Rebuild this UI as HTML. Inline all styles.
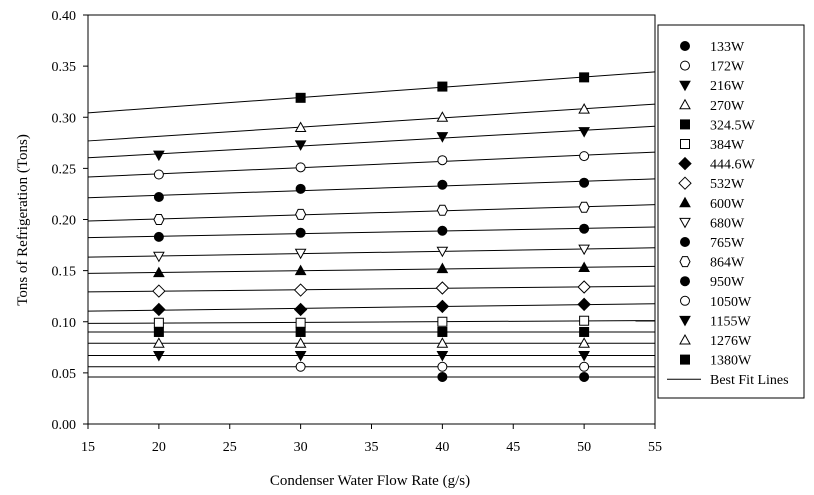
<!DOCTYPE html>
<html><head><meta charset="utf-8"><style>
body{margin:0;background:#fff}
svg{display:block;font-family:"Liberation Serif",serif}
</style></head><body>
<svg id="c" width="814" height="495" xmlns="http://www.w3.org/2000/svg"></svg>
<script>
const seriesNames=["133W","172W","216W","270W","324.5W","384W","444.6W","532W","600W","680W","765W","864W","950W","1050W","1155W","1276W","1380W"];
const markers=["fcircle","ocircle","fdown","oup","fsquare","osquare","fdiamond","odiamond","fup","odown","fcircle","ohex","fcircle","ocircle","fdown","oup","fsquare"];
const flows=[20,30,40,50];
const s133=[null,null,0.046,0.046];
const s172=[null,0.056,0.056,0.056];
const s216=[0.067,0.067,0.067,0.067];
const s270=[0.079,0.079,0.079,0.079];
const s324=[0.090,0.090,0.090,0.090];
const s384=[0.099,0.099,0.100,0.101];
const s444=[0.112,0.112,0.115,0.117];
const s532=[0.130,0.131,0.133,0.134];
const s600=[0.148,0.150,0.152,0.153];
const s680=[0.164,0.167,0.169,0.171];
const s765=[0.183,0.187,0.189,0.191];
const s864=[0.200,0.205,0.209,0.212];
const s950=[0.222,0.230,0.234,0.236];
const s1050=[0.244,0.251,0.258,0.262];
const s1155=[0.263,0.273,0.281,0.286];
const s1276=[null,0.290,0.300,0.308];
const s1380=[null,0.319,0.330,0.339];
const allSeries=[s133,s172,s216,s270,s324,s384,s444,s532,s600,s680,s765,s864,s950,s1050,s1155,s1276,s1380];
const xTicks=[15,20,25,30,35,40,45,50,55];
const yTicks=[0,0.05,0.10,0.15,0.20,0.25,0.30,0.35,0.40];

const L=88,R=655,T=15,B=424;
const X=v=>L+(v-15)/(40)*(R-L);
const Y=v=>B-v/0.4*(B-T);
const svg=document.getElementById('c');
const NS="http://www.w3.org/2000/svg";
function mk(tag,attrs,parent){const e=document.createElementNS(NS,tag);for(const k in attrs)e.setAttribute(k,attrs[k]);(parent||svg).appendChild(e);return e;}
function marker(type,cx,cy,g){
  const fill=type[0]==='f'?'#000':'#fff';const s=type.slice(1);let e;const st={fill:fill,stroke:'#000','stroke-width':1};
  if(s==='circle'){e=mk('circle',Object.assign({cx:cx,cy:cy,r:4.5},st),g);}
  else if(s==='square'){e=mk('rect',Object.assign({x:cx-4.5,y:cy-4.5,width:9,height:9},st),g);}
  else if(s==='up'){e=mk('polygon',Object.assign({points:`${cx},${cy-5} ${cx-5},${cy+4} ${cx+5},${cy+4}`},st),g);}
  else if(s==='down'){e=mk('polygon',Object.assign({points:`${cx},${cy+5} ${cx-5},${cy-4} ${cx+5},${cy-4}`},st),g);}
  else if(s==='diamond'){e=mk('polygon',Object.assign({points:`${cx},${cy-6} ${cx+6},${cy} ${cx},${cy+6} ${cx-6},${cy}`},st),g);}
  else {e=mk('polygon',Object.assign({points:`${cx-2.5},${cy-5} ${cx+2.5},${cy-5} ${cx+5},${cy} ${cx+2.5},${cy+5} ${cx-2.5},${cy+5} ${cx-5},${cy}`},st),g);}
  return e;
}
// axes frame
const frame=mk('rect',{x:L,y:T,width:R-L,height:B-T,fill:'none',stroke:'#000','stroke-width':1});


xTicks.forEach(t=>{
  const l=mk('line',{x1:X(t),x2:X(t),y1:B,y2:B+5,stroke:'#000'});
  
  
  const tx=mk('text',{x:X(t),y:B+27,'text-anchor':'middle','font-size':14});tx.textContent=t;
  
  
});
yTicks.forEach(t=>{
  const l=mk('line',{x1:L-5,x2:L,y1:Y(t),y2:Y(t),stroke:'#000'});
  
  
  const tx=mk('text',{x:L-12,y:Y(t)+5,'text-anchor':'end','font-size':14});tx.textContent=t.toFixed(2);
  
  
});
const xt=mk('text',{x:370,y:485,'text-anchor':'middle','font-size':15});xt.textContent='Condenser Water Flow Rate (g/s)';


const yt=mk('text',{x:0,y:0,'text-anchor':'middle','font-size':15,transform:'translate(27,220) rotate(-90)'});yt.textContent='Tons of Refrigeration (Tons)';


// fit lines + markers
allSeries.forEach((vals,i)=>{
  const pts=[];vals.forEach((v,j)=>{if(v!==null)pts.push([flows[j],v]);});
  const n=pts.length;let sx=0,sy=0,sxx=0,sxy=0;pts.forEach(p=>{sx+=p[0];sy+=p[1];sxx+=p[0]*p[0];sxy+=p[0]*p[1];});
  const d=n*sxx-sx*sx;const m=d?(n*sxy-sx*sy)/d:0;const b=(sy-m*sx)/n;
  const ln=mk('line',{x1:X(15),y1:Y(b+m*15),x2:X(55),y2:Y(b+m*55),stroke:'#000','stroke-width':1});
  
  
});
allSeries.forEach((vals,i)=>{
  vals.forEach((v,j)=>{if(v===null)return;
    const e=marker(markers[i],X(flows[j]),Y(v));
    
    
  });
});
// legend
const lg=mk('rect',{x:658,y:25,width:146,height:373,fill:'#fff',stroke:'#000'});


seriesNames.forEach((nm,i)=>{
  const cy=46+i*19.6;
  const e=marker(markers[i],685,cy);
  
  
  const t=mk('text',{x:710,y:cy+5,'font-size':14});t.textContent=nm;
  
  
});
const by=46+17*19.6;
const bl=mk('line',{x1:667,x2:701,y1:by,y2:by,stroke:'#000'});


const bt=mk('text',{x:710,y:by+5,'font-size':14});bt.textContent='Best Fit Lines';


</script>
</body></html>
